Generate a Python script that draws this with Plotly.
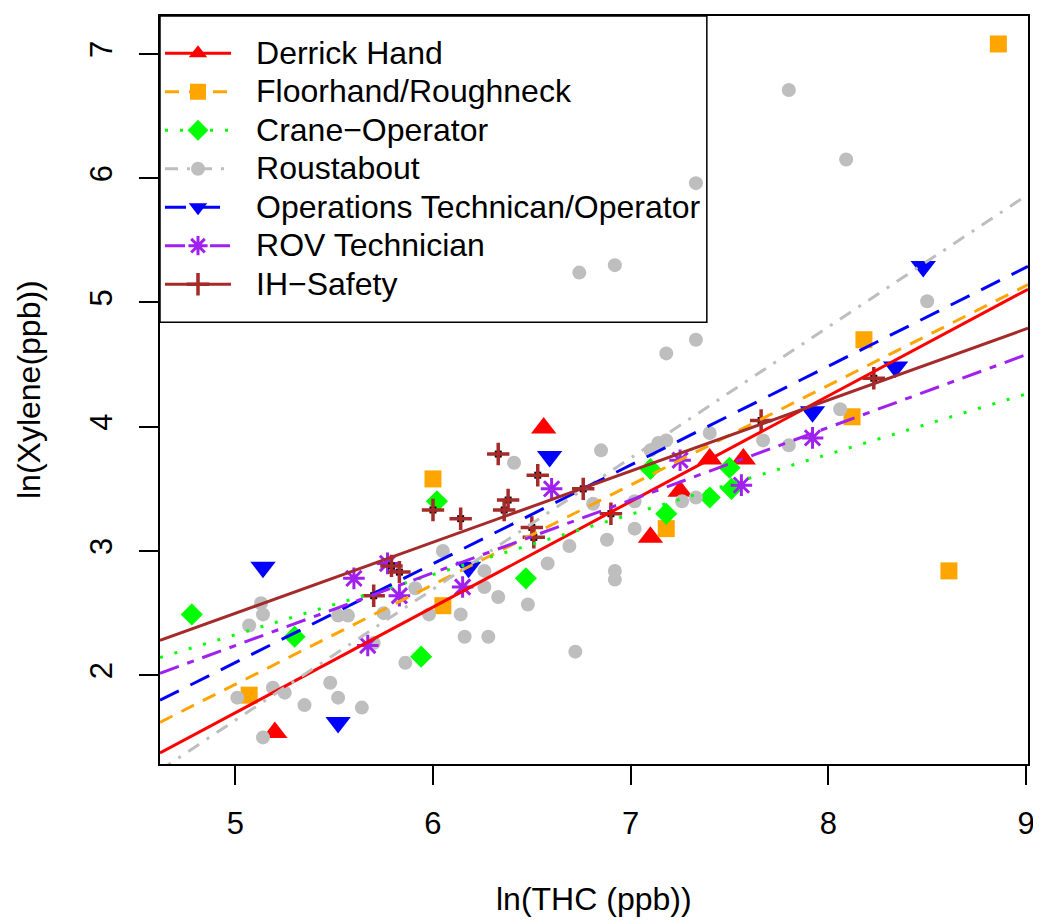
import plotly.graph_objects as go
import numpy as np

# ---------------- data ----------------
groups = ["Derrick Hand", "Floorhand/Roughneck", "Crane\u2212Operator", "Roustabout",
          "Operations Technican/Operator", "ROV Technician", "IH\u2212Safety"]

derrick_x = [5.20, 6.56, 7.10, 7.25, 7.40, 7.57]
derrick_y = [1.54, 3.99, 3.11, 3.48, 3.74, 3.74]

floor_x = [5.07, 6.00, 6.05, 7.18, 8.18, 8.12, 8.61, 8.86]
floor_y = [1.84, 3.58, 2.56, 3.18, 4.70, 4.08, 2.84, 7.08]

crane_x = [4.78, 5.30, 5.94, 6.02, 6.47, 7.18, 7.10, 7.40, 7.51, 7.50]
crane_y = [2.49, 2.31, 2.15, 3.40, 2.78, 3.30, 3.66, 3.43, 3.50, 3.67]

roust_x = [7.80, 8.09, 7.33, 6.74, 6.92, 8.50, 7.18, 7.33, 8.06, 7.67,
           7.80, 7.40, 6.85, 7.10, 7.14, 7.18, 6.41, 6.81, 7.02, 7.26,
           7.33, 7.02, 6.88, 6.69, 6.58, 6.92, 6.92, 6.05, 6.26, 6.26,
           6.33, 6.48, 6.14, 6.16, 6.28, 6.72, 5.86, 5.75, 5.98, 5.70,
           5.52, 5.57, 5.13, 5.14, 5.07, 5.01, 5.19, 5.25, 5.14, 5.35,
           5.48, 5.52, 5.64, 5.91]
roust_y = [6.71, 6.15, 5.96, 5.24, 5.30, 5.01, 4.59, 4.70, 4.14, 3.89,
           3.85, 3.95, 3.81, 3.81, 3.87, 3.89, 3.71, 3.38, 3.40, 3.40,
           3.43, 3.18, 3.09, 3.04, 2.90, 2.84, 2.77, 3.00, 2.84, 2.71,
           2.63, 2.57, 2.49, 2.31, 2.31, 2.19, 2.10, 2.50, 2.49, 2.26,
           2.48, 2.48, 2.58, 2.49, 2.40, 1.82, 1.90, 1.86, 1.50, 1.76,
           1.94, 1.82, 1.74, 2.70]

ops_x = [5.14, 5.52, 6.59, 6.18, 7.92, 8.34, 8.48]
ops_y = [2.87, 1.62, 3.76, 2.87, 4.12, 4.48, 5.29]

rov_x = [5.60, 5.77, 5.83, 5.67, 6.15, 6.60, 7.25, 7.56, 7.92]
rov_y = [2.78, 2.90, 2.64, 2.24, 2.71, 3.50, 3.73, 3.53, 3.91]

ih_x = [6.00, 6.14, 6.33, 6.38, 6.36, 6.53, 6.76, 6.50, 6.51, 6.90,
        5.79, 5.83, 5.70, 7.66, 8.23]
ih_y = [3.33, 3.26, 3.78, 3.41, 3.33, 3.61, 3.50, 3.19, 3.11, 3.30,
        2.88, 2.83, 2.64, 4.05, 4.39]

# regression lines (intercept, slope) per group
fit_intercept = [-2.552, -2.083, -0.093, -3.637, -1.873, -0.686, -0.361]
fit_slope = [0.850, 0.802, 0.484, 1.055, 0.795, 0.585, 0.572]

x_range = [4.619, 9.01]
y_range = [1.286, 7.305]
x_ticks = [5, 6, 7, 8, 9]
y_ticks = [2, 3, 4, 5, 6, 7]

# ---------------- styles ----------------
colors = ["#FF0000", "#FFA500", "#00FF00", "#BEBEBE", "#0000FF", "#A020F0", "#A52A2A"]
dashes = ["solid", "14px,10px", "3px,12px", "13px,9px,3px,9px", "21px,13px",
          "20px,9px,7px,9px", "solid"]
symbols = ["triangle-up", "square", "diamond", "circle", "triangle-down",
           "asterisk-open", "cross-thin-open"]
sizes = [22, 17, 17, 14, 22, 18, 16]
xs = [derrick_x, floor_x, crane_x, roust_x, ops_x, rov_x, ih_x]
ys = [derrick_y, floor_y, crane_y, roust_y, ops_y, rov_y, ih_y]

FONT = "Liberation Sans, Arial, Helvetica, sans-serif"
TEXT_SIZE = 32
fig = go.Figure()


def marker_for(i):
    m = dict(symbol=symbols[i], size=sizes[i], color=colors[i])
    if symbols[i].endswith("open"):
        m["line"] = dict(color=colors[i], width=3.5 if i == 6 else 3)
    else:
        m["line"] = dict(width=0)
    return m


# points
for i in range(len(groups)):
    if i == 6:
        fig.add_trace(go.Scatter(x=xs[i], y=ys[i], mode="markers",
                                 marker=dict(symbol="square", size=7, color="black"),
                                 showlegend=False, hoverinfo="skip"))
    fig.add_trace(go.Scatter(x=xs[i], y=ys[i], mode="markers", marker=marker_for(i),
                             showlegend=False, name=groups[i]))

# regression lines
xl = np.array(x_range)
for i in range(len(groups)):
    fig.add_trace(go.Scatter(x=xl, y=fit_intercept[i] + fit_slope[i] * xl, mode="lines",
                             line=dict(color=colors[i], width=3, dash=dashes[i]),
                             showlegend=False, hoverinfo="skip"))

# legend entries (line + symbol)
for i in range(len(groups)):
    label = ('<span style="font-size:36px">\u00a0\u00a0</span>'
             '<span style="font-size:%dpx">%s</span>' % (TEXT_SIZE, groups[i]))
    fig.add_trace(go.Scatter(x=[None], y=[None], mode="lines+markers", name=label,
                             line=dict(color=colors[i], width=3, dash=dashes[i]),
                             marker=marker_for(i)))

axis_common = dict(showgrid=False, zeroline=False, showline=True, linecolor="black",
                   linewidth=1.5, mirror=True, ticks="outside", ticklen=19,
                   tickwidth=1.5, tickcolor="black",
                   tickfont=dict(family=FONT, size=31, color="black"))

# the page body has an 8px offset; margins compensate so the plot box sits at
# x 160..1028, y 14..764 in the screenshot
fig.update_layout(
    width=1041, height=920,
    margin=dict(l=152, r=21, t=6, b=164),
    plot_bgcolor="white", paper_bgcolor="white",
    xaxis=dict(range=x_range, tickvals=x_ticks, ticklabelstandoff=12, **axis_common),
    yaxis=dict(range=y_range, tickvals=y_ticks, tickangle=-90, ticklabelstandoff=15,
               **axis_common),
    legend=dict(x=0, y=1, xanchor="left", yanchor="top", bgcolor="rgba(0,0,0,0)",
                borderwidth=0, itemwidth=66,
                font=dict(family=FONT, size=27.3, color="black"),
                title=dict(text=" ", font=dict(size=10)),
                tracegroupgap=0),
    shapes=[
        # legend frame (transparent box, as in the original)
        dict(type="rect", xref="paper", yref="paper", x0=0, x1=0.630, y0=0.5907, y1=1,
             line=dict(color="black", width=1.5), fillcolor="rgba(0,0,0,0)",
             layer="above"),
    ],
    annotations=[
        dict(text="ln(THC (ppb))", xref="paper", yref="paper", x=0.5, y=0,
             xanchor="center", yanchor="middle", yshift=-135, showarrow=False,
             font=dict(family=FONT, size=TEXT_SIZE, color="black")),
        dict(text="ln(Xylene(ppb))", xref="paper", yref="paper", x=0, y=0.5,
             xanchor="center", yanchor="middle", xshift=-131, textangle=-90,
             showarrow=False, font=dict(family=FONT, size=TEXT_SIZE, color="black")),
    ],
)

fig.write_html("out.html")
